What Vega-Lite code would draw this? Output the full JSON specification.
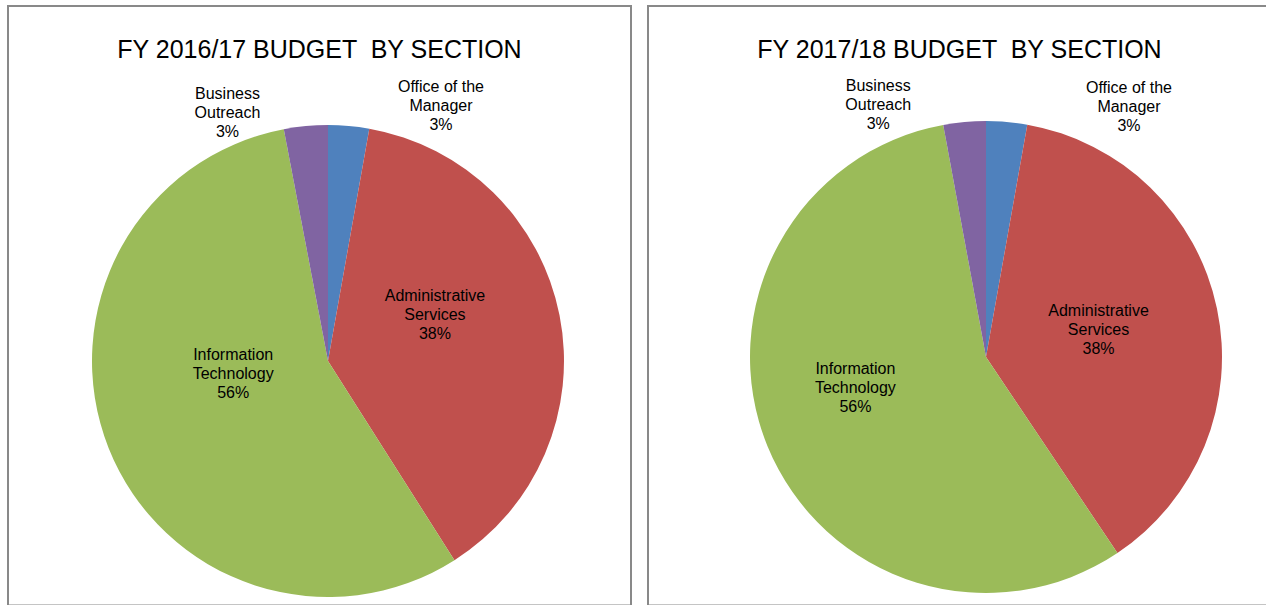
{
  "$schema": "https://vega.github.io/schema/vega-lite/v6.json",
  "padding": {"left": 7, "top": 5, "right": -6, "bottom": -1.5},
  "background": "white",
  "bounds": "flush",
  "config": {
    "view": {"stroke": null},
    "title": {"font": "Liberation Sans", "fontSize": 25, "fontWeight": "normal", "color": "#000000", "anchor": "middle", "frame": "group", "baseline": "alphabetic", "offset": -58},
    "text": {"font": "Liberation Sans", "fontSize": 16, "lineHeight": 19, "fill": "#000000", "clip": true}
  },
  "datasets": {
    "budget": [
      {"year": "2016/17", "idx": 1, "name": "Office of the Manager", "lines": ["Office of the", "Manager"], "value": 0.028},
      {"year": "2016/17", "idx": 2, "name": "Administrative Services", "lines": ["Administrative", "Services"], "value": 0.382},
      {"year": "2016/17", "idx": 3, "name": "Information Technology", "lines": ["Information", "Technology"], "value": 0.560},
      {"year": "2016/17", "idx": 4, "name": "Business Outreach", "lines": ["Business", "Outreach"], "value": 0.030},
      {"year": "2017/18", "idx": 1, "name": "Office of the Manager", "lines": ["Office of the", "Manager"], "value": 0.028},
      {"year": "2017/18", "idx": 2, "name": "Administrative Services", "lines": ["Administrative", "Services"], "value": 0.378},
      {"year": "2017/18", "idx": 3, "name": "Information Technology", "lines": ["Information", "Technology"], "value": 0.565},
      {"year": "2017/18", "idx": 4, "name": "Business Outreach", "lines": ["Business", "Outreach"], "value": 0.029}
    ]
  },
  "hconcat": [
    {
      "width": 623, "height": 599.5,
      "title": "FY 2016/17 BUDGET \u00a0BY SECTION",
      "data": {"name": "budget"},
      "transform": [{"filter": "datum.year == '2016/17'"}],
      "layer": [
        {"transform": [{"filter": "datum.idx == 1"}],
         "mark": {"type": "rect", "x": 0, "y": 0, "x2": "width", "y2": "height", "filled": false, "stroke": "#898989", "strokeWidth": 2},
         "encoding": {}},
        {"encoding": {
          "theta": {"field": "value", "type": "quantitative", "stack": true},
          "order": {"field": "idx", "type": "quantitative"},
          "detail": {"field": "name", "type": "nominal"}
         },
         "layer": [
          {"mark": {"type": "arc", "outerRadius": 236, "x": 320, "y": 355},
           "encoding": {"color": {"field": "name", "type": "nominal", "legend": null,
             "scale": {"domain": ["Office of the Manager", "Administrative Services", "Information Technology", "Business Outreach"], "range": ["#4F81BD", "#C0504D", "#9BBB59", "#8064A2"]}}}},
          {"mark": {"type": "text", "x": 320, "y": 355, "radius": 109, "dy": -44},
           "encoding": {"text": {"condition": {"test": "datum.idx == 2", "field": "lines"}, "value": ""}}},
          {"mark": {"type": "text", "x": 320, "y": 355, "radius": 109, "dy": -6},
           "encoding": {"text": {"condition": {"test": "datum.idx == 2", "field": "value", "type": "quantitative", "format": ".0%"}, "value": ""}}},
          {"mark": {"type": "text", "x": 320, "y": 355, "radius": 102, "dy": -44},
           "encoding": {"text": {"condition": {"test": "datum.idx == 3", "field": "lines"}, "value": ""}}},
          {"mark": {"type": "text", "x": 320, "y": 355, "radius": 102, "dy": -6},
           "encoding": {"text": {"condition": {"test": "datum.idx == 3", "field": "value", "type": "quantitative", "format": ".0%"}, "value": ""}}},
          {"mark": {"type": "text", "x": 320, "y": 355, "radius": 250, "dx": 91, "dy": -25},
           "encoding": {"text": {"condition": {"test": "datum.idx == 1", "field": "lines"}, "value": ""}}},
          {"mark": {"type": "text", "x": 320, "y": 355, "radius": 250, "dx": 91, "dy": 13},
           "encoding": {"text": {"condition": {"test": "datum.idx == 1", "field": "value", "type": "quantitative", "format": ".0%"}, "value": ""}}},
          {"mark": {"type": "text", "x": 320, "y": 355, "radius": 250, "dx": -77, "dy": -18},
           "encoding": {"text": {"condition": {"test": "datum.idx == 4", "field": "lines"}, "value": ""}}},
          {"mark": {"type": "text", "x": 320, "y": 355, "radius": 250, "dx": -77, "dy": 20},
           "encoding": {"text": {"condition": {"test": "datum.idx == 4", "field": "value", "type": "quantitative", "format": ".0%"}, "value": ""}}}
         ]}
      ]
    },
    {
      "width": 623, "height": 599.5,
      "title": "FY 2017/18 BUDGET \u00a0BY SECTION",
      "data": {"name": "budget"},
      "transform": [{"filter": "datum.year == '2017/18'"}],
      "layer": [
        {"transform": [{"filter": "datum.idx == 1"}],
         "mark": {"type": "rect", "x": 0, "y": 0, "x2": "width", "y2": "height", "filled": false, "stroke": "#898989", "strokeWidth": 2},
         "encoding": {}},
        {"encoding": {
          "theta": {"field": "value", "type": "quantitative", "stack": true},
          "order": {"field": "idx", "type": "quantitative"},
          "detail": {"field": "name", "type": "nominal"}
         },
         "layer": [
          {"mark": {"type": "arc", "outerRadius": 236, "x": 338, "y": 351},
           "encoding": {"color": {"field": "name", "type": "nominal", "legend": null,
             "scale": {"domain": ["Office of the Manager", "Administrative Services", "Information Technology", "Business Outreach"], "range": ["#4F81BD", "#C0504D", "#9BBB59", "#8064A2"]}}}},
          {"mark": {"type": "text", "x": 338, "y": 351, "radius": 115, "dy": -22},
           "encoding": {"text": {"condition": {"test": "datum.idx == 2", "field": "lines"}, "value": ""}}},
          {"mark": {"type": "text", "x": 338, "y": 351, "radius": 115, "dy": 16},
           "encoding": {"text": {"condition": {"test": "datum.idx == 2", "field": "value", "type": "quantitative", "format": ".0%"}, "value": ""}}},
          {"mark": {"type": "text", "x": 338, "y": 351, "radius": 141, "dy": -41},
           "encoding": {"text": {"condition": {"test": "datum.idx == 3", "field": "lines"}, "value": ""}}},
          {"mark": {"type": "text", "x": 338, "y": 351, "radius": 141, "dy": -3},
           "encoding": {"text": {"condition": {"test": "datum.idx == 3", "field": "value", "type": "quantitative", "format": ".0%"}, "value": ""}}},
          {"mark": {"type": "text", "x": 338, "y": 351, "radius": 250, "dx": 121, "dy": -20},
           "encoding": {"text": {"condition": {"test": "datum.idx == 1", "field": "lines"}, "value": ""}}},
          {"mark": {"type": "text", "x": 338, "y": 351, "radius": 250, "dx": 121, "dy": 18},
           "encoding": {"text": {"condition": {"test": "datum.idx == 1", "field": "value", "type": "quantitative", "format": ".0%"}, "value": ""}}},
          {"mark": {"type": "text", "x": 338, "y": 351, "radius": 250, "dx": -85, "dy": -22},
           "encoding": {"text": {"condition": {"test": "datum.idx == 4", "field": "lines"}, "value": ""}}},
          {"mark": {"type": "text", "x": 338, "y": 351, "radius": 250, "dx": -85, "dy": 16},
           "encoding": {"text": {"condition": {"test": "datum.idx == 4", "field": "value", "type": "quantitative", "format": ".0%"}, "value": ""}}}
         ]}
      ]
    }
  ],
  "spacing": 17
}
